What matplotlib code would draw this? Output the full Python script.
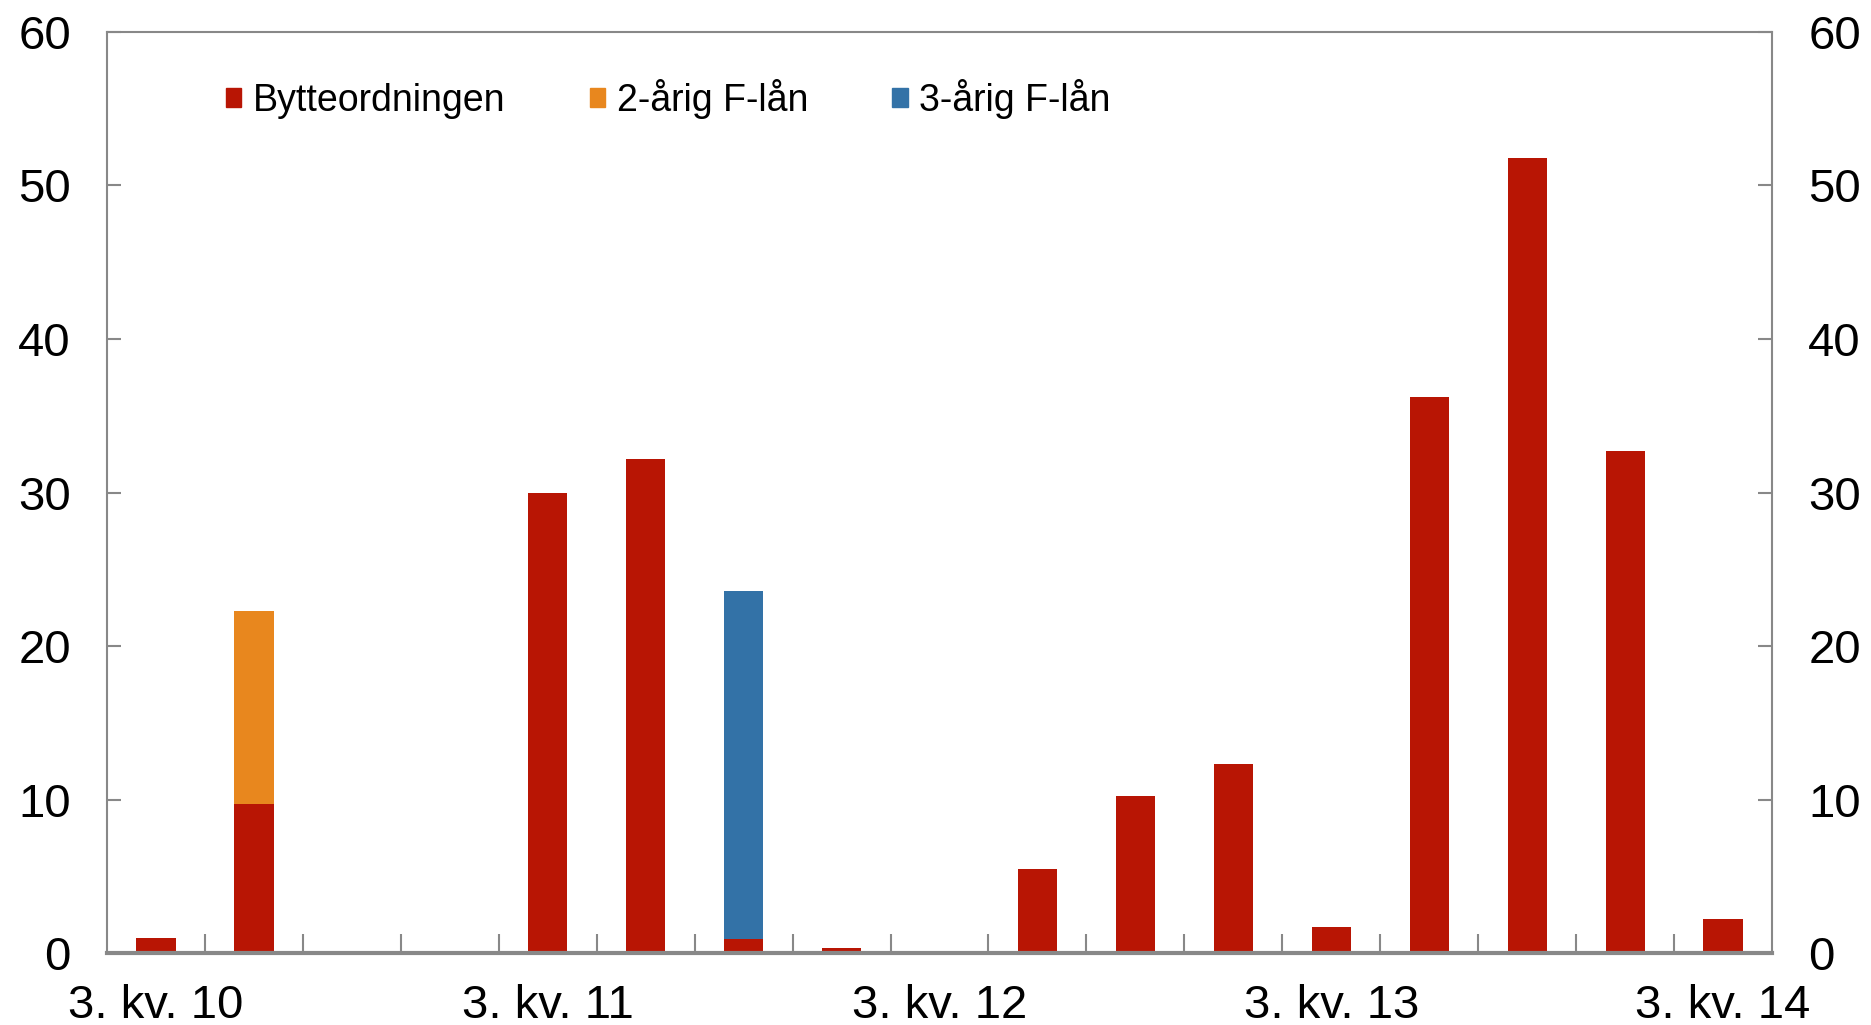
import numpy as np
import matplotlib.pyplot as plt
from matplotlib.patches import Patch

plt.rcParams['font.family'] = ['Liberation Sans', 'DejaVu Sans']

# Quarters from 3. kv. 10 to 3. kv. 14
quarters = ["3. kv. 10", "4. kv. 10", "1. kv. 11", "2. kv. 11",
            "3. kv. 11", "4. kv. 11", "1. kv. 12", "2. kv. 12",
            "3. kv. 12", "4. kv. 12", "1. kv. 13", "2. kv. 13",
            "3. kv. 13", "4. kv. 13", "1. kv. 14", "2. kv. 14",
            "3. kv. 14"]
bytte = [1.0, 9.7, 0, 0, 30.0, 32.2, 0.9, 0.3, 0, 5.5, 10.2, 12.3,
         1.7, 36.2, 51.8, 32.7, 2.2]
flan2 = [0, 12.6, 0, 0, 0, 0, 0, 0, 0, 0, 0, 0, 0, 0, 0, 0, 0]
flan3 = [0, 0, 0, 0, 0, 0, 22.7, 0, 0, 0, 0, 0, 0, 0, 0, 0, 0]
shown_labels = ["3. kv. 10", "3. kv. 11", "3. kv. 12", "3. kv. 13", "3. kv. 14"]

red = "#B81504"
orange = "#E8871E"
blue = "#3372A7"
grey = "#888888"

fig = plt.figure(figsize=(18.71, 10.25), dpi=100)
ax = fig.add_axes([0.0572, 0.0702, 0.8899, 0.8986])

x = np.arange(len(quarters))
w = 0.4
ax.bar(x, bytte, w, color=red)
ax.bar(x, flan2, w, bottom=bytte, color=orange)
ax.bar(x, flan3, w, bottom=bytte, color=blue)

ax.set_xlim(-0.5, len(quarters) - 0.5)
ax.set_ylim(0, 60)
ax.set_yticks(range(0, 61, 10))

for s in ax.spines.values():
    s.set_color(grey)
    s.set_linewidth(1.5)
ax.spines['bottom'].set_linewidth(3)

# category boundary ticks on the x axis
ax.set_xticks(np.arange(0.5, len(quarters) - 1, 1))
ax.set_xticklabels([])
ax.tick_params(axis='x', direction='in', length=14, width=1.5, color=grey)
for lab in shown_labels:
    i = quarters.index(lab)
    ax.text(i, -2.0, lab, ha='center', va='top', fontsize=34)

ax.tick_params(axis='y', direction='in', length=10, width=1.5, color=grey,
               labelsize=34, pad=26, left=True, right=True,
               labelleft=True, labelright=True)

handles = [Patch(color=red, label="Bytteordningen"),
           Patch(color=orange, label="2-årig F-lån"),
           Patch(color=blue, label="3-årig F-lån")]
ax.legend(handles=handles, ncol=3, frameon=False, fontsize=27,
          loc='upper left', bbox_to_anchor=(0.051, 0.986),
          handlelength=0.42, handleheight=0.42, handletextpad=0.3,
          columnspacing=2.25)

fig.savefig("out.png", dpi=100)
